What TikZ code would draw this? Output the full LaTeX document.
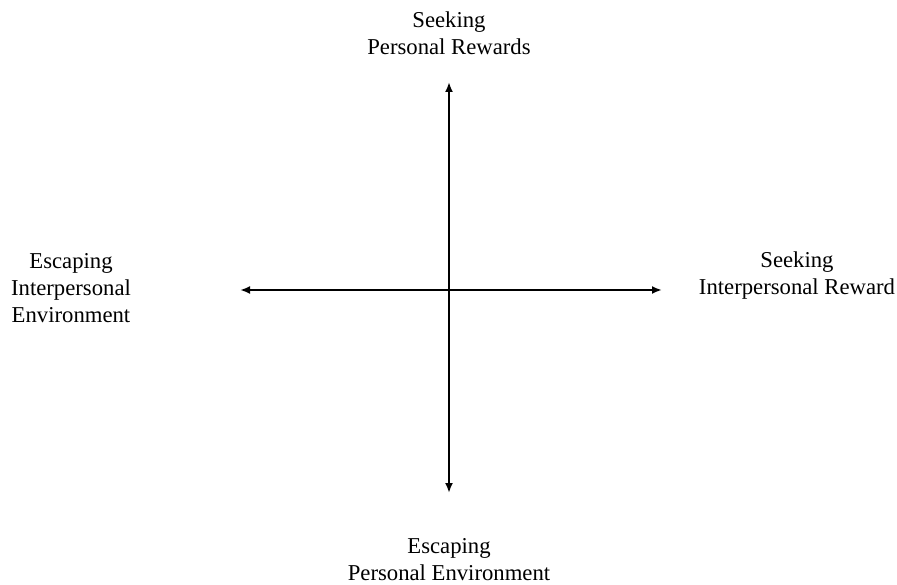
\documentclass[tikz,border=0pt]{standalone}
\usepackage{fontspec}
\setmainfont{Liberation Serif}
\usetikzlibrary{arrows.meta,positioning}

\begin{document}
\begin{tikzpicture}[
    x=1pt, y=-1pt,
    label/.style={align=center, anchor=base, inner sep=0pt,
                  font=\fontsize{22.7}{27}\selectfont},
    axis/.style={{Latex[length=10pt,width=8pt]}-{Latex[length=10pt,width=8pt]}, line width=2pt}
]
\useasboundingbox (0,0) rectangle (897,585);
% labels sit on the baseline of their last line
\node[label] (seekpers) at (449,55) {Seeking\\Personal Rewards};
\node[label] (escinter) at (71,323) {Escaping\\Interpersonal\\Environment};
\node[label] (seekinter) at (797,295) {Seeking\\Interpersonal Reward};
\node[label] (escpers) at (449,580) {Escaping\\Personal Environment};

\coordinate (up) at (449,82);
\coordinate (down) at (449,493);
\coordinate (left) at (240,290);
\coordinate (right) at (662,290);

\draw[axis] (up)--(down);
\draw[axis] (left)--(right);
\end{tikzpicture}
\end{document}
